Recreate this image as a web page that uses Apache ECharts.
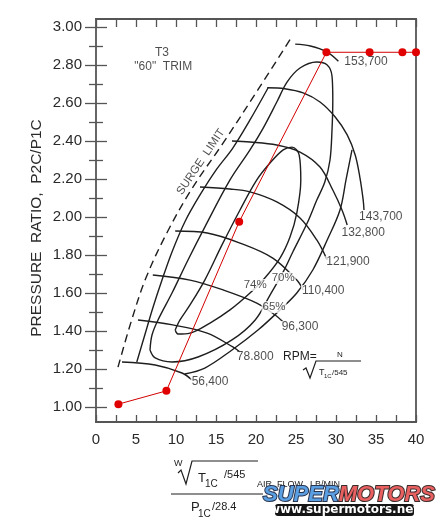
<!DOCTYPE html>
<html><head><meta charset="utf-8">
<script src="https://cdn.jsdelivr.net/npm/echarts@6/dist/echarts.min.js"></script>
<style>html,body{margin:0;padding:0;background:#fff}#c{width:441px;height:523px}</style>
</head><body><div id="c"></div>
<script>
// ---- tick labels ----
const xTickLabels = [0,5,10,15,20,25,30,35,40];
const yTickLabels = ['1.00','1.20','1.40','1.60','1.80','2.00','2.20','2.40','2.60','2.80','3.00'];

// ---- surge limit ----
const surgeLimit = [[2.75,1.21],[4.4,1.45],[6.25,1.68],[8.9,1.92],[12.0,2.15],[15.9,2.39],[20.25,2.67],[24.5,2.95]];

// ---- constant speed lines ----
const speed153700 = [[24.9,2.91],[26.8,2.90],[28.8,2.87],[30.3,2.82]];
const speed143700 = [[21.4,2.68],[23.6,2.675],[25.9,2.653],[28.0,2.605],[29.9,2.526],[31.4,2.432],[32.4,2.326],[33.0,2.205],[33.4,2.089],[33.5,2.037]];
const speed132800 = [[17.0,2.40],[19.25,2.395],[22.6,2.379],[25.5,2.342],[28.0,2.263],[29.6,2.142],[30.75,2.037],[31.4,1.958]];
const speed121900 = [[13.0,2.158],[16.75,2.147],[19.25,2.132],[22.6,2.079],[25.5,1.995],[27.6,1.879],[28.9,1.774]];
const speed110400 = [[9.9,1.926],[13.9,1.916],[18.0,1.863],[22.1,1.784],[25.1,1.668],[25.9,1.616]];
const speed96300  = [[7.1,1.695],[11.75,1.668],[15.9,1.616],[20.1,1.547],[22.4,1.484],[23.4,1.447]];
const speed78800  = [[5.25,1.458],[9.6,1.432],[13.9,1.389],[17.1,1.316],[18.0,1.289]];
const speed56400  = [[3.25,1.237],[7.4,1.221],[10.75,1.179],[12.0,1.142]];

// ---- efficiency islands ----
const eff74 = [[9.9,1.405],[10.5,1.458],[11.75,1.537],[13.6,1.668],[15.75,1.853],[18.0,2.037],[20.1,2.195],[21.75,2.284],[23.4,2.353],[24.5,2.368],[25.4,2.326],[25.6,2.195],[25.1,2.021],[24.25,1.895],[23.0,1.784],[21.1,1.679],[19.25,1.600],[16.75,1.511],[14.25,1.442],[11.75,1.389],[10.25,1.384],[9.9,1.405]];
const eff70 = [[6.75,1.300],[7.0,1.379],[7.75,1.458],[9.5,1.600],[11.5,1.774],[13.6,1.947],[16.75,2.195],[19.25,2.353],[20.9,2.468],[22.6,2.605],[23.9,2.711],[25.5,2.784],[27.6,2.816],[28.9,2.800],[29.5,2.742],[29.6,2.616],[29.5,2.458],[29.25,2.300],[28.6,2.184],[27.6,2.089],[26.4,1.968],[24.6,1.816],[23.4,1.711],[21.75,1.589],[19.9,1.458],[17.0,1.353],[12.75,1.263],[9.5,1.237],[7.4,1.258],[6.75,1.300]];
const eff65Left = [[5.1,1.237],[6.1,1.379],[7.1,1.521],[8.25,1.668],[9.5,1.816],[11.1,1.974],[13.0,2.116],[15.0,2.247],[17.1,2.363],[19.25,2.511],[21.5,2.679]];
const eff65Right = [[32.0,2.353],[31.25,2.195],[30.5,2.037],[28.9,1.879],[27.1,1.721],[25.1,1.600],[23.0,1.511],[20.25,1.405],[17.0,1.300],[13.6,1.205],[11.1,1.174]];

// ---- operating line (red) ----
const opLineX = [2.8,8.8,17.9,28.8,34.2,38.3,40];
const opLineY = [1.015,1.085,1.975,2.867,2.867,2.867,2.867];

// ---- labels ----
const speedNames = ['153,700','143,700','132,800','121,900','110,400','96,300','78.800','56,400'];
const speedNamePos = [[33.75,2.815],[35.6,2.0],[33.4,1.916],[31.5,1.763],[28.4,1.611],[25.5,1.421],[19.9,1.263],[14.25,1.132]];
const effNames = ['74%','70%','65%'];
const effNamePos = [[19.9,1.642],[23.4,1.679],[22.25,1.526]];
const noteNames = ['T3','"60"  TRIM'];
const notePos = [[8.25,2.863],[8.4,2.789]];

const INK = '#1e1e1e';
const FRAME = '#555555';
const FONT = 'Liberation Sans';

function curve(data, dashed){
  return {type:'line', data, smooth:0.35, symbol:'none', showSymbol:false, silent:true,
    lineStyle:{color:INK, width:1.4, type: dashed ? [8,5] : 'solid'}, z:3};
}
function labelSeries(names, pos, size, bg, rotate){
  return {type:'scatter', symbolSize:1, itemStyle:{color:'rgba(0,0,0,0)'}, silent:true, z:10,
    data: names.map((n,i)=>[pos[i][0],pos[i][1],n]),
    label:{show:true, position:'inside', formatter:p=>p.value[2], color:INK,
      fontFamily:FONT, fontSize:size, rotate:rotate||0,
      backgroundColor: bg ? '#fff' : 'transparent', padding: bg ? [0,1] : 0}};
}

const chart = echarts.init(document.getElementById('c'), null, {renderer:'canvas'});
const frameLine = {show:true, lineStyle:{color:FRAME, width:1.8}};
const option = {
  animation:false,
  backgroundColor:'#fff',
  grid:{left:96, right:25, top:27, bottom:116, containLabel:false},
  xAxis:[
    {type:'value', splitLine:{show:false}, axisLine:frameLine, position:'bottom', offset:15, min:0, max:40, interval:2.5,
      axisTick:{show:true, inside:true, length:7, lineStyle:{color:FRAME, width:1.3}},
      axisLabel:{margin:10, color:'#2a2a2a', fontFamily:FONT, fontSize:15,
        formatter:v=> xTickLabels.indexOf(v)>=0 ? String(v) : ''}},
    {type:'value', splitLine:{show:false}, axisLine:frameLine, position:'top', offset:8, min:0, max:40, interval:2.5,
      axisTick:{show:true, inside:true, length:8, lineStyle:{color:FRAME, width:1.3}},
      axisLabel:{show:false}}
  ],
  yAxis:[
    {type:'value', splitLine:{show:false}, axisLine:{show:false}, position:'left', min:1, max:3, interval:0.2,
      axisTick:{show:true, inside:true, length:11, lineStyle:{color:FRAME, width:1.3}},
      minorTick:{show:true, splitNumber:2, length:7, lineStyle:{color:FRAME, width:1.3}},
      axisLabel:{margin:14, color:'#2a2a2a', fontFamily:FONT, fontSize:15,
        formatter:v=>{const s=v.toFixed(2); return yTickLabels.indexOf(s)>=0 ? s : '';}}},
    {type:'value', splitLine:{show:false}, axisLine:{show:false}, position:'right', min:1, max:3, interval:0.2,
      axisTick:{show:true, inside:true, length:11, lineStyle:{color:FRAME, width:1.3}},
      minorTick:{show:true, splitNumber:2, length:7, lineStyle:{color:FRAME, width:1.3}},
      axisLabel:{show:false}}
  ],
  series:[
    curve(surgeLimit, true),
    curve(speed153700), curve(speed143700), curve(speed132800), curve(speed121900),
    curve(speed110400), curve(speed96300), curve(speed78800), curve(speed56400),
    curve(eff74), curve(eff70), curve(eff65Left), curve(eff65Right),
    {type:'line', data: opLineX.map((x,i)=>[x,opLineY[i]]), symbol:'circle', symbolSize:8, silent:true, z:6,
      clip:false,
      lineStyle:{color:'#d40000', width:1}, itemStyle:{color:'#e00000'}},
    labelSeries(speedNames, speedNamePos, 12, true),
    labelSeries(effNames, effNamePos, 11.5, true),
    labelSeries(noteNames, notePos, 12, false),
    labelSeries(['SURGE  LIMIT'], [[13.1,2.29]], 11.5, true, 56)
  ],
  graphic:[
    {type:'text', x:37, y:228, rotation:Math.PI/2, style:{text:'PRESSURE  RATIO,  P2C/P1C', font:'15.5px "Liberation Sans"', fill:'#2a2a2a', align:'center', verticalAlign:'middle'}},
    {type:'text', x:283, y:357, style:{text:'RPM=', font:'12px "Liberation Sans"', fill:INK, align:'left', verticalAlign:'middle'}},
    {type:'text', x:340, y:355, style:{text:'N', font:'8px "Liberation Sans"', fill:INK, align:'center', verticalAlign:'middle'}},
    {type:'polyline', shape:{points:[[303,370],[306,368],[310,378],[316,361],[361,361]]}, style:{stroke:INK, lineWidth:1.2, fill:null}},
    {type:'text', x:319, y:373, style:{text:'T', font:'9px "Liberation Sans"', fill:INK, align:'left', verticalAlign:'middle'}},
    {type:'text', x:324, y:376, style:{text:'1C', font:'6px "Liberation Sans"', fill:INK, align:'left', verticalAlign:'middle'}},
    {type:'text', x:332, y:373, style:{text:'/545', font:'8px "Liberation Sans"', fill:INK, align:'left', verticalAlign:'middle'}},
    {type:'text', x:174, y:464, style:{text:'W', font:'9px "Liberation Sans"', fill:INK, align:'left', verticalAlign:'middle'}},
    {type:'polyline', shape:{points:[[178,473],[181,470],[186,484],[192,461],[258,461]]}, style:{stroke:INK, lineWidth:1.2, fill:null}},
    {type:'text', x:198, y:478, style:{text:'T', font:'13px "Liberation Sans"', fill:INK, align:'left', verticalAlign:'middle'}},
    {type:'text', x:205, y:484, style:{text:'1C', font:'10px "Liberation Sans"', fill:INK, align:'left', verticalAlign:'middle'}},
    {type:'text', x:224, y:475, style:{text:'/545', font:'11px "Liberation Sans"', fill:INK, align:'left', verticalAlign:'middle'}},
    {type:'text', x:257, y:485, style:{text:'AIR  FLOW,  LB/MIN', font:'9px "Liberation Sans"', fill:INK, align:'left', verticalAlign:'middle'}},
    {type:'line', shape:{x1:171, y1:494, x2:263, y2:494}, style:{stroke:INK, lineWidth:1.2}},
    {type:'text', x:191, y:507, style:{text:'P', font:'13px "Liberation Sans"', fill:INK, align:'left', verticalAlign:'middle'}},
    {type:'text', x:198, y:514, style:{text:'1C', font:'10px "Liberation Sans"', fill:INK, align:'left', verticalAlign:'middle'}},
    {type:'text', x:212, y:507, style:{text:'/28.4', font:'11px "Liberation Sans"', fill:INK, align:'left', verticalAlign:'middle'}},
    {type:'line', shape:{x1:96, y1:18, x2:96, y2:423}, style:{stroke:FRAME, lineWidth:1.8}},
    {type:'line', shape:{x1:416, y1:18, x2:416, y2:423}, style:{stroke:FRAME, lineWidth:1.8}},
    {type:'rect', shape:{x:275, y:504, width:139, height:12, r:3}, style:{fill:'#151515'}, z:30},
    {type:'text', x:344, y:510, z:31, style:{text:'www.supermotors.net', font:'bold 12px "DejaVu Sans"', fill:'#fff', align:'center', verticalAlign:'middle'}},
    {type:'text', x:263, y:495, z:31, style:{
      text:'{a|SUPER}{b|MOTORS}', align:'left', verticalAlign:'middle',
      rich:{a:{font:'italic bold 22px "Liberation Sans"', fill:'#5b9fe3', stroke:'#2a3550', lineWidth:2},
            b:{font:'italic bold 22px "Liberation Sans"', fill:'#e86060', stroke:'#3a2a2a', lineWidth:2}}}}
  ]
};
chart.setOption(option);
</script></body></html>
